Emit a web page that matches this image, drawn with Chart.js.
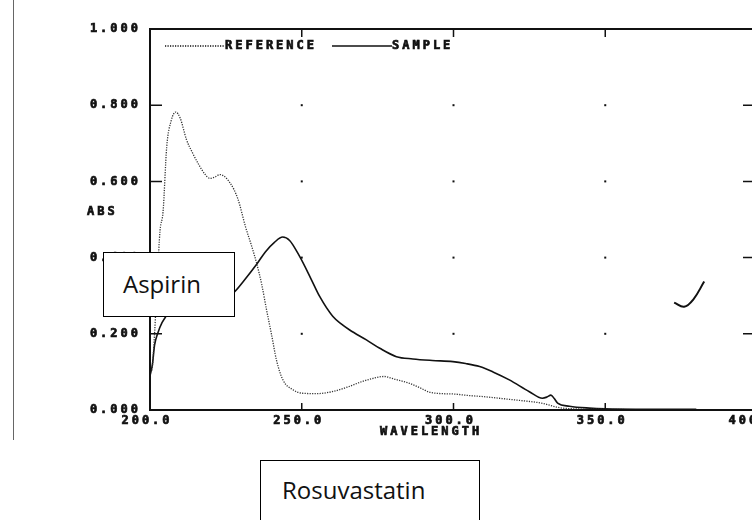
<!DOCTYPE html>
<html lang="en">
<head>
    <meta charset="UTF-8">
    <title>UV Spectrum - Reference vs Sample</title>
    <style>
        body { margin: 0; background: #fff; overflow: hidden; width: 752px; height: 520px; position: relative; }
        #chartContainer { position: absolute; left: 0; top: 0; width: 800px; height: 520px; }
        .scanEdge { position: absolute; left: 13px; top: 0; width: 1px; height: 440px; background: #666; }
        .label { position: absolute; background: #fff; border: 1.5px solid #000; box-sizing: border-box;
                 font-family: "Open Sans", sans-serif; font-size: 24px; color: #111; }
        #aspirin { left: 103px; top: 252px; width: 132px; height: 65px; padding-left: 19px; line-height: 61px; }
        #rosu { left: 260px; top: 460px; width: 220px; height: 80px; padding-left: 21px; padding-top: 12px; }
    </style>
</head>
<body>

<div class="scanEdge"></div>

<!-- Chart Container -->
<div id="chartContainer">
    <canvas id="spectrumChart" width="800" height="520"></canvas>
</div>

<div class="label" id="aspirin">Aspirin</div>
<div class="label" id="rosu">Rosuvastatin</div>

<script src="https://cdn.jsdelivr.net/npm/chart.js"></script>
<script>
    // REFERENCE curve (dotted)
    const refWl  = [200, 200.6, 201.5, 202.5, 203.3, 204.3, 205.5, 207, 208.5, 210, 212, 214, 216, 218, 219.7,
                    221.5, 223, 226.3, 229, 231.5, 233.5, 235.1, 236.8, 238.4, 240, 241.7, 243.8, 247.1, 250.3,
                    255, 260, 265, 270, 274, 277, 281, 285.5, 289, 292, 296, 300, 305, 310, 316, 322, 329, 335,
                    340, 350, 360, 370, 377];
    const refAbs = [0.10, 0.105, 0.2, 0.36, 0.47, 0.52, 0.69, 0.76, 0.782, 0.765, 0.71, 0.675, 0.645, 0.62, 0.608,
                    0.612, 0.618, 0.597, 0.553, 0.48, 0.43, 0.386, 0.33, 0.263, 0.2, 0.13, 0.079, 0.053, 0.044,
                    0.043, 0.048, 0.06, 0.075, 0.084, 0.088, 0.08, 0.07, 0.058, 0.047, 0.043, 0.042, 0.038, 0.035,
                    0.03, 0.025, 0.018, 0.006, 0.003, 0.002, 0.001, 0.001, 0.001];

    // SAMPLE curve (solid)
    const sampleWl  = [200, 200.8, 201.5, 202.5, 204, 207, 212, 218, 224, 227.4, 231, 235.2, 238, 241, 243.7, 246,
                       249.3, 253, 255.9, 260.2, 263, 265.8, 271.3, 275.7, 281.2, 286.6, 293, 299.8, 304, 308.6,
                       313, 318.4, 325, 329.3, 330.8, 332.1, 333.2, 334.3, 338.2, 344.7, 350, 360, 370, 380];
    const sampleAbs = [0.09, 0.12, 0.17, 0.2, 0.23, 0.26, 0.28, 0.29, 0.295, 0.307, 0.34, 0.383, 0.415, 0.44, 0.454,
                       0.445, 0.403, 0.345, 0.298, 0.246, 0.226, 0.21, 0.184, 0.162, 0.14, 0.134, 0.13, 0.127, 0.122,
                       0.114, 0.1, 0.079, 0.048, 0.031, 0.034, 0.039, 0.03, 0.018, 0.01, 0.005, 0.003, 0.002, 0.002,
                       0.002];

    // hand-drawn tick mark on the print
    const markWl  = [372.7, 376, 379, 382.6];
    const markAbs = [0.282, 0.271, 0.29, 0.337];

    const xTicks = [200, 250, 300, 350, 400];
    const yTicks = [0, 0.2, 0.4, 0.6, 0.8, 1.0];
    const innerX = [250, 300, 350];
    const innerY = [0.2, 0.4, 0.6, 0.8];

    const monoFont = { family: 'DejaVu Sans Mono', size: 12, weight: 'bold' };
    const spacing = '3px';

    const toPoints = (xs, ys) => xs.map((x, i) => ({ x: x, y: ys[i] }));

    // box, inward ticks, grid dots, axis title and legend, like the printout
    const framePlugin = {
        id: 'frame',
        beforeDraw(chart) {
            chart.ctx.letterSpacing = spacing;
        },
        afterDraw(chart) {
            const ctx = chart.ctx;
            const a = chart.chartArea;
            const xs = chart.scales.x, ys = chart.scales.y;
            ctx.save();
            ctx.strokeStyle = '#111';
            ctx.fillStyle = '#111';
            ctx.lineWidth = 2;
            ctx.strokeRect(a.left, a.top, a.right - a.left, a.bottom - a.top);

            ctx.lineWidth = 1.5;
            ctx.beginPath();
            innerX.forEach(v => {
                const px = xs.getPixelForValue(v);
                ctx.moveTo(px, a.top); ctx.lineTo(px, a.top + 8);
                ctx.moveTo(px, a.bottom); ctx.lineTo(px, a.bottom - 7);
            });
            innerY.forEach(v => {
                const py = ys.getPixelForValue(v);
                ctx.moveTo(a.left, py); ctx.lineTo(a.left + 12, py);
                ctx.moveTo(a.right - 14, py); ctx.lineTo(a.right, py);
            });
            ctx.stroke();

            innerX.forEach(vx => {
                innerY.forEach(vy => {
                    ctx.fillRect(xs.getPixelForValue(vx) - 1, ys.getPixelForValue(vy) - 1, 2, 2);
                });
            });

            ctx.font = 'bold 12px "DejaVu Sans Mono"';
            ctx.letterSpacing = spacing;
            ctx.textBaseline = 'middle';
            ctx.textAlign = 'left';
            ctx.lineWidth = 0.7;
            const heavyText = (t, x, y) => { ctx.fillText(t, x, y); ctx.strokeText(t, x, y); };
            heavyText('ABS', 87, 212);
            heavyText('WAVELENGTH', 380, 432);

            // legend
            heavyText('REFERENCE', 225, 46);
            heavyText('SAMPLE', 392, 46);
            ctx.lineWidth = 1.3;
            ctx.setLineDash([1.2, 1.3]);
            ctx.beginPath(); ctx.moveTo(165, 46); ctx.lineTo(224, 46); ctx.stroke();
            ctx.setLineDash([]);
            ctx.lineWidth = 1.6;
            ctx.beginPath(); ctx.moveTo(332, 46); ctx.lineTo(392, 46); ctx.stroke();
            ctx.restore();
            ctx.letterSpacing = '0px';
        }
    };

    const ctx = document.getElementById('spectrumChart').getContext('2d');
    new Chart(ctx, {
        type: 'line',
        data: {
            datasets: [{
                label: 'REFERENCE',
                data: toPoints(refWl, refAbs),
                borderColor: '#333',
                borderWidth: 1.3,
                borderDash: [1.2, 1.3],
                pointRadius: 0,
                cubicInterpolationMode: 'monotone',
                fill: false
            }, {
                label: 'SAMPLE',
                data: toPoints(sampleWl, sampleAbs),
                borderColor: '#111',
                borderWidth: 1.6,
                pointRadius: 0,
                cubicInterpolationMode: 'monotone',
                fill: false
            }, {
                label: 'mark',
                data: toPoints(markWl, markAbs),
                borderColor: '#111',
                borderWidth: 2,
                pointRadius: 0,
                tension: 0.4,
                fill: false
            }]
        },
        options: {
            responsive: false,
            animation: false,
            devicePixelRatio: 1,
            layout: { padding: { top: 29, right: 43, left: 0, bottom: 0 } },
            plugins: {
                legend: { display: false },
                tooltip: { enabled: false }
            },
            scales: {
                x: {
                    type: 'linear',
                    min: xTicks[0],
                    max: xTicks[xTicks.length - 1],
                    afterBuildTicks: s => { s.ticks = xTicks.map(v => ({ value: v })); },
                    afterFit: s => { s.height = 110; },
                    grid: { display: false, drawTicks: false },
                    border: { display: false },
                    ticks: {
                        callback: v => v.toFixed(1),
                        font: monoFont,
                        color: '#111',
                        textStrokeColor: '#111',
                        textStrokeWidth: 0.7,
                        padding: 4,
                        labelOffset: -3,
                        maxRotation: 0,
                        autoSkip: false
                    }
                },
                y: {
                    min: yTicks[0],
                    max: yTicks[yTicks.length - 1],
                    afterBuildTicks: s => { s.ticks = yTicks.map(v => ({ value: v })); },
                    afterFit: s => { s.width = 150; },
                    grid: { display: false, drawTicks: false },
                    border: { display: false },
                    ticks: {
                        callback: v => v.toFixed(3),
                        font: monoFont,
                        color: '#111',
                        textStrokeColor: '#111',
                        textStrokeWidth: 0.7,
                        padding: 9
                    }
                }
            }
        },
        plugins: [framePlugin]
    });
</script>

</body>
</html>
